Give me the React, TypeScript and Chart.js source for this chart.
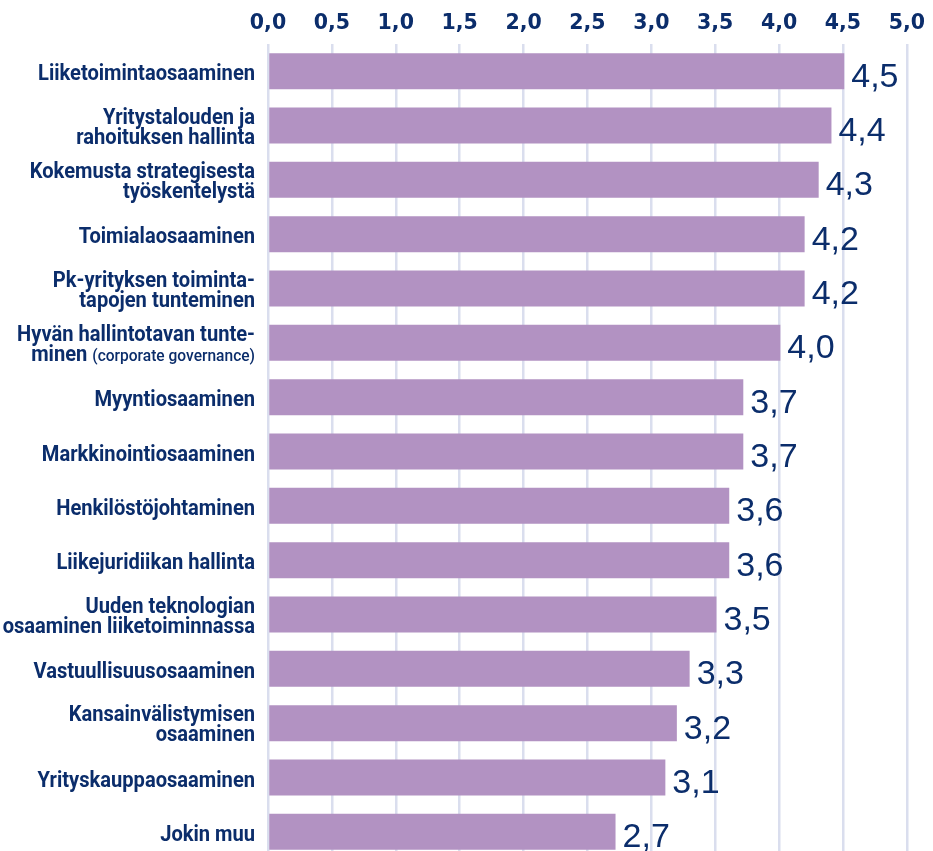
import React, { useEffect, useRef } from "react";
import { Chart, registerables } from "chart.js";

Chart.register(...registerables);

// ---- data ----
const categories: string[][] = [
  ["Liiketoimintaosaaminen"],
  ["Yritystalouden ja", "rahoituksen hallinta"],
  ["Kokemusta strategisesta", "työskentelystä"],
  ["Toimialaosaaminen"],
  ["Pk-yrityksen toiminta-", "tapojen tunteminen"],
  ["Hyvän hallintotavan tunte-", "minen (corporate governance)"],
  ["Myyntiosaaminen"],
  ["Markkinointiosaaminen"],
  ["Henkilöstöjohtaminen"],
  ["Liikejuridiikan hallinta"],
  ["Uuden teknologian", "osaaminen liiketoiminnassa"],
  ["Vastuullisuusosaaminen"],
  ["Kansainvälistymisen", "osaaminen"],
  ["Yrityskauppaosaaminen"],
  ["Jokin muu"],
];

const values: number[] = [
  4.51, 4.41, 4.31, 4.2, 4.2, 4.01, 3.72, 3.72, 3.61, 3.61, 3.51, 3.3, 3.2, 3.11, 2.72,
];

const axisMin = 0;
const axisMax = 5;
const axisStep = 0.5;

// ---- styles ----
const NAVY = "#0b2d6b";
const BAR = "#b292c2";
const GRID = "#dadeee";

const fmt = (v: number) => Number(v).toFixed(1).replace(".", ",");

const yLabelPlugin = {
  id: "yLabels",
  afterDraw(chart: any) {
    const ctx: CanvasRenderingContext2D = chart.ctx;
    const yScale = chart.scales.y;
    const rightX = chart.chartArea.left - 13;
    const mainFont = "bold 22px Roboto, 'Liberation Sans', sans-serif";
    const smallFont = "500 17px Roboto, 'Liberation Sans', sans-serif";
    ctx.save();
    ctx.font = mainFont;
    const refW = ctx.measureText("Liiketoimintaosaaminen").width;
    const sx = 217 / refW;
    const lineH = 20;
    ctx.fillStyle = NAVY;
    ctx.textBaseline = "alphabetic";
    ctx.textAlign = "left";
    categories.forEach((lines, i) => {
      const cy = yScale.getPixelForValue(i);
      const n = lines.length;
      lines.forEach((line, j) => {
        const baseline = cy + 9 - (n - 1) * 11 + j * lineH;
        const segs: { t: string; f: string }[] = [];
        const m = line.match(/^(.*?)\s*(\(.*\))$/);
        if (m) {
          segs.push({ t: m[1] + " ", f: mainFont });
          segs.push({ t: m[2], f: smallFont });
        } else {
          segs.push({ t: line, f: mainFont });
        }
        let total = 0;
        const widths = segs.map((s) => {
          ctx.font = s.f;
          const w = ctx.measureText(s.t).width;
          total += w;
          return w;
        });
        ctx.save();
        ctx.translate(rightX, baseline);
        ctx.scale(sx, 1);
        let x = -total;
        segs.forEach((s, k) => {
          ctx.font = s.f;
          ctx.fillText(s.t, x, 0);
          x += widths[k];
        });
        ctx.restore();
      });
    });
    ctx.restore();
  },
};

const dataLabelPlugin = {
  id: "dataLabels",
  afterDatasetsDraw(chart: any) {
    const ctx: CanvasRenderingContext2D = chart.ctx;
    const meta = chart.getDatasetMeta(0);
    ctx.save();
    ctx.font = "34px 'Liberation Sans', Arial, sans-serif";
    ctx.fillStyle = NAVY;
    ctx.textAlign = "left";
    ctx.textBaseline = "alphabetic";
    meta.data.forEach((bar: any, i: number) => {
      ctx.fillText(fmt(values[i]), bar.x + 7, bar.y + 15.5);
    });
    ctx.restore();
  },
};

export default function App() {
  const ref = useRef<HTMLCanvasElement | null>(null);

  useEffect(() => {
    if (!ref.current) return;
    const chart = new Chart(ref.current, {
      type: "bar",
      data: {
        labels: categories.map((l) => l.join(" ")),
        datasets: [
          {
            data: values,
            backgroundColor: BAR,
            borderWidth: 0,
            barPercentage: 0.663,
            categoryPercentage: 1,
          },
        ],
      },
      options: {
        indexAxis: "y",
        responsive: false,
        animation: false,
        events: [],
        layout: { padding: { left: 268, right: 25, top: 0, bottom: 0 } },
        plugins: {
          legend: { display: false },
          tooltip: { enabled: false },
        },
        scales: {
          x: {
            type: "linear",
            position: "top",
            min: axisMin,
            max: axisMax,
            afterFit: (s: any) => {
              s.height = 44;
            },
            ticks: {
              stepSize: axisStep,
              autoSkip: false,
              maxRotation: 0,
              padding: 8,
              color: NAVY,
              font: { family: "'DejaVu Sans', sans-serif", weight: "bold", size: 20.5 },
              callback: (v: any) => fmt(Number(v)),
            },
            grid: { color: GRID, lineWidth: 2.5, drawTicks: false },
            border: { display: false },
          },
          y: {
            type: "category",
            display: false,
          },
        },
      },
      plugins: [yLabelPlugin, dataLabelPlugin],
    } as any);
    return () => chart.destroy();
  }, []);

  return (
    <div style={{ position: "fixed", left: 0, top: 0, width: 933, height: 859, background: "#fff" }}>
      <canvas ref={ref} width={933} height={859} style={{ display: "block" }} />
    </div>
  );
}
